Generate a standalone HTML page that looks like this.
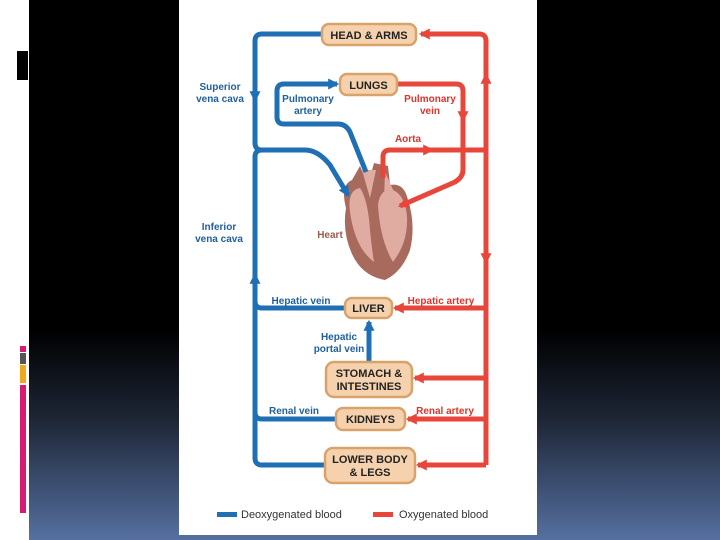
<!DOCTYPE html>
<html><head><style>
html,body{margin:0;padding:0;width:720px;height:540px;overflow:hidden;}
body{position:relative;background:#fff;font-family:"Liberation Sans",sans-serif;}
.bg{position:absolute;left:29px;top:0;width:691px;height:540px;background:linear-gradient(to bottom,#000 0,#000 330px,#1e2636 420px,#3a4b6c 480px,#5670a0 540px);}
.panel{position:absolute;left:179px;top:0;width:358px;height:535px;background:#fff;}
.bar{position:absolute;left:20px;width:6px;}
</style></head><body>
<div class="bg"></div>
<div style="position:absolute;left:17px;top:51px;width:11px;height:29px;background:#000"></div>
<div class="bar" style="top:346px;height:6px;background:#d81b72"></div>
<div class="bar" style="top:353px;height:11px;background:#555"></div>
<div class="bar" style="top:365px;height:18px;background:#f2a81d"></div>
<div class="bar" style="top:385px;height:128px;background:#d81b72"></div>
<div class="panel"></div>
<svg width="720" height="540" style="position:absolute;left:0;top:0" font-family="Liberation Sans, sans-serif" font-weight="bold">
<defs>
<marker id="ab" viewBox="0 0 10 10" refX="8" refY="5" markerWidth="2.2" markerHeight="2.2" orient="auto"><path d="M0,0 L10,5 L0,10 z" fill="#1f6fb5"/></marker>
<marker id="ar" viewBox="0 0 10 10" refX="8" refY="5" markerWidth="2.2" markerHeight="2.2" orient="auto"><path d="M0,0 L10,5 L0,10 z" fill="#e8463a"/></marker>
</defs>
<!-- heart -->
<g>
<path d="M346,208 Q340,185 352,180 L360,166 L368,185 L374,163 L388,166 L390,185 Q404,182 408,200 Q416,225 410,250 Q402,272 385,280 Q362,276 352,254 Q342,232 346,208 Z" fill="#a86a5c"/>
<path d="M350,212 Q347,190 360,188 Q368,200 370,230 Q372,250 374,262 Q355,248 350,212 Z" fill="#e0aca2"/>
<path d="M378,205 Q380,188 393,190 Q406,196 407,218 Q408,242 393,262 Q380,240 378,205 Z" fill="#e0aca2"/>
<path d="M362,170 L370,198 L376,170 Z" fill="#e0aca2"/>
<path d="M385,172 L384,200 L394,192 Z" fill="#e0aca2"/>
</g>
<g fill="none" stroke="#1f6fb5" stroke-width="5" stroke-linejoin="round">
<path d="M322,34 H262 Q255,34 255,41 V143 Q255,150 262,150 H305 Q318,150 330,165 L348,195" marker-end="url(#ab)"/>
<path d="M255,90 V100" marker-end="url(#ab)"/>
<path d="M262,465 Q255,465 255,458 V157 Q255,150 262,150"/>
<path d="M255,290 V275" marker-end="url(#ab)"/>
<path d="M345,308 H262 Q255,308 255,301"/>
<path d="M336,419 H262 Q255,419 255,412"/>
<path d="M325,465 H262"/>
<path d="M366,172 L350,132 Q346,124 338,124 H284 Q277,124 277,117 V91 Q277,84 284,84 H337" marker-end="url(#ab)"/>
<path d="M369,362 V322" marker-end="url(#ab)"/>
</g>
<g fill="none" stroke="#e8463a" stroke-width="5" stroke-linejoin="round">
<path d="M486,465 V41 Q486,34 479,34 H421" marker-end="url(#ar)"/>
<path d="M486,90 V75" marker-end="url(#ar)"/>
<path d="M486,250 V262" marker-end="url(#ar)"/>
<path d="M397,84 H456 Q463,84 463,91 V170 Q463,177 455,182 L400,206" marker-end="url(#ar)"/>
<path d="M463,110 V120" marker-end="url(#ar)"/>
<path d="M383,178 V157 Q383,150 390,150 H486"/>
<path d="M420,150 H432" marker-end="url(#ar)"/>
<path d="M486,308 H395" marker-end="url(#ar)"/>
<path d="M486,378 H415" marker-end="url(#ar)"/>
<path d="M486,419 H408" marker-end="url(#ar)"/>
<path d="M486,465 H418" marker-end="url(#ar)"/>
</g>
<g fill="#f5d2ad" stroke="#d9a26b" stroke-width="2.5">
<rect x="322" y="24" width="94" height="21" rx="7"/>
<rect x="340" y="74" width="57" height="21" rx="7"/>
<rect x="345" y="298" width="47" height="20" rx="7"/>
<rect x="326" y="362" width="86" height="35" rx="8"/>
<rect x="336" y="408" width="69" height="22" rx="7"/>
<rect x="325" y="448" width="90" height="35" rx="8"/>
</g>
<g font-size="11" fill="#222" text-anchor="middle">
<text x="369" y="39">HEAD &amp; ARMS</text>
<text x="368.5" y="89">LUNGS</text>
<text x="368.5" y="312">LIVER</text>
<text x="369" y="377">STOMACH &amp;</text>
<text x="369" y="390">INTESTINES</text>
<text x="370.5" y="423">KIDNEYS</text>
<text x="370" y="463">LOWER BODY</text>
<text x="370" y="476">&amp; LEGS</text>
</g>
<g font-size="10" fill="#1f5f9e" text-anchor="middle">
<text x="220" y="90">Superior</text><text x="220" y="102">vena cava</text>
<text x="219" y="230">Inferior</text><text x="219" y="242">vena cava</text>
<text x="308" y="102">Pulmonary</text><text x="308" y="114">artery</text>
<text x="301" y="304">Hepatic vein</text>
<text x="339" y="340">Hepatic</text><text x="339" y="352">portal vein</text>
<text x="294" y="414">Renal vein</text>
</g>
<g font-size="10" fill="#d8352b" text-anchor="middle">
<text x="430" y="102">Pulmonary</text><text x="430" y="114">vein</text>
<text x="408" y="142">Aorta</text>
<text x="441" y="304">Hepatic artery</text>
<text x="445" y="414">Renal artery</text>
</g>
<text x="330" y="238" font-size="10" fill="#9a5a4c" text-anchor="middle">Heart</text>
<rect x="217" y="512" width="20" height="5" fill="#1f6fb5"/>
<rect x="373" y="512" width="20" height="5" fill="#e8463a"/>
<g font-size="11" font-weight="normal" fill="#333">
<text x="241" y="518">Deoxygenated blood</text>
<text x="399" y="518">Oxygenated blood</text>
</g>
</svg>
</body></html>
